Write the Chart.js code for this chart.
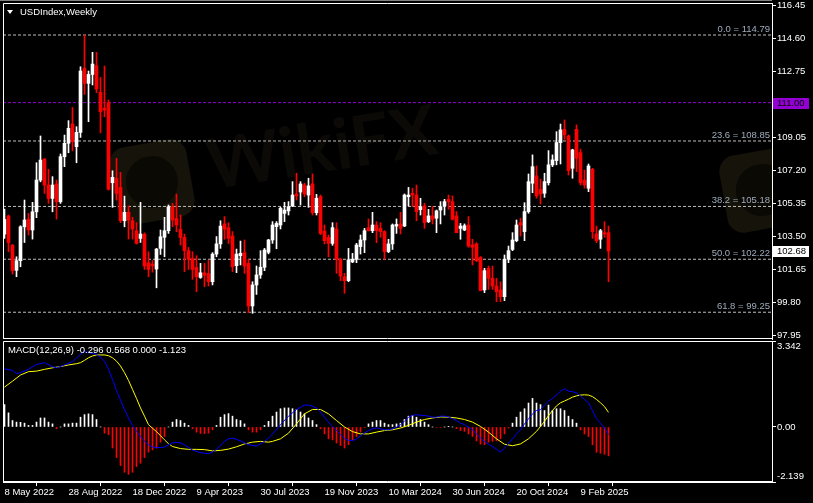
<!DOCTYPE html>
<html>
<head>
<meta charset="utf-8">
<title>USDIndex,Weekly</title>
<script src="https://cdn.jsdelivr.net/npm/chart.js@4.4.1/dist/chart.umd.min.js"></script>
<style>
  html, body { margin: 0; padding: 0; background: #000; }
  #wrap { position: relative; width: 813px; height: 503px; overflow: hidden; background: #000; }
  canvas { position: absolute; left: 0; z-index: 1; }
  #price { top: 0; }
  #macd { top: 339px; }
  .txt { position: absolute; z-index: 2; color: #fff; font: 9.5px 'Liberation Sans', Arial, sans-serif; line-height: 11px; white-space: nowrap; }
  #tri { position: absolute; z-index: 2; left: 7px; top: 10px; width: 0; height: 0;
         border-left: 3px solid transparent; border-right: 3px solid transparent; border-top: 4px solid #fff; }
  #wm { position: absolute; left: 3px; top: 3px; width: 769px; height: 335px; overflow: hidden; z-index: 0; }
  .logo { position: absolute; width: 78px; height: 78px; border-radius: 16px; background: #16130a; transform: rotate(-10deg); }
  .logo::after { content: ''; position: absolute; left: 13px; top: 13px; width: 52px; height: 52px; border-radius: 50%; background: #0b0904; }
  #wmtext { position: absolute; left: 202px; top: 100px; font: bold 70px 'Lato', 'DejaVu Sans', sans-serif; color: #0c0a06; transform: rotate(-9deg); }
</style>
</head>
<body>
<div id="wrap">
  <div id="wm">
    <div class="logo" style="left:110px; top:140px;"></div>
    <div id="wmtext">WikiFX</div>
    <div class="logo" style="left:720px; top:148px;"></div>
  </div>
  <canvas id="price" width="813" height="342"></canvas>
  <canvas id="macd" width="813" height="164"></canvas>
  <div id="tri"></div>
  <div class="txt" style="left:20px; top:6px;">USDIndex,Weekly</div>
  <div class="txt" style="left:8px; top:344px;">MACD(12,26,9) -0.296 0.568 0.000 -1.123</div>
</div>
<script>
// weekly bars from 8 May 2022
const opens = [
  103.63,104.64,103.01,101.60,102.14,104.04,104.47,103.86,104.88,106.66,
  107.84,106.38,105.63,106.44,105.44,107.97,108.72,109.80,108.53,109.33,
  112.92,112.08,112.58,113.07,111.58,110.68,111.00,106.51,106.75,106.25,
  104.38,104.85,104.38,103.82,103.39,103.63,102.02,101.95,101.67,102.83,
  103.45,103.82,105.16,104.51,103.89,103.44,102.70,102.27,101.76,101.20,
  101.46,101.42,100.96,102.51,103.08,104.20,103.99,103.52,101.86,102.42,
  102.59,101.99,99.60,100.78,101.34,101.77,102.61,103.30,104.05,104.14,
  104.79,104.93,105.21,105.88,105.99,106.38,105.82,106.44,104.83,105.73,
  103.80,103.45,103.11,103.92,102.22,101.24,101.02,102.07,102.22,102.93,
  103.30,103.99,103.82,104.14,103.95,103.77,102.65,103.08,104.08,104.20,
  104.08,105.73,105.92,105.82,105.00,105.21,104.33,104.65,104.52,104.98,
  105.21,105.58,105.45,104.65,103.95,103.86,104.14,103.02,103.08,102.33,
  100.50,101.71,101.15,100.72,100.50,100.12,102.22,102.77,103.26,104.27,
  103.77,104.89,106.48,106.89,106.14,105.92,106.51,107.51,107.75,108.76,
  109.50,109.13,107.32,109.50,108.20,106.66,106.20,107.26,103.64,103.34,
  103.71,103.71
];
const highs = [
  105.03,104.70,103.05,102.36,104.10,105.54,104.79,105.41,107.63,109.13,
  107.87,107.26,106.85,106.66,108.12,109.18,109.99,110.73,109.65,113.01,
  114.79,112.77,113.82,113.82,112.42,113.05,111.15,107.18,107.87,107.09,
  105.76,105.20,104.57,104.27,105.41,103.70,102.64,102.15,102.83,103.86,
  104.57,105.26,105.35,105.87,104.70,103.63,102.88,102.64,102.42,101.99,
  101.99,102.17,102.59,103.49,104.38,104.61,104.27,103.77,102.79,103.24,
  103.30,102.22,100.96,101.84,102.70,102.83,103.34,104.33,104.33,105.13,
  105.41,105.45,106.57,107.04,106.57,106.48,106.76,107.00,105.86,105.82,
  104.14,103.58,104.27,104.27,102.27,101.43,102.83,102.55,103.11,103.58,
  103.95,104.48,104.85,104.33,104.27,103.82,103.34,104.20,104.48,104.85,
  105.88,106.25,106.20,106.38,105.64,105.36,105.02,105.17,104.98,105.45,
  105.58,105.82,105.77,104.89,104.23,104.20,104.61,103.34,103.15,102.37,
  101.71,101.84,101.84,101.15,100.96,102.46,102.96,103.71,104.42,104.52,
  105.39,107.00,108.07,107.45,106.70,107.04,108.31,108.07,109.37,109.80,
  110.03,109.19,108.39,109.75,108.39,107.22,107.56,107.32,104.08,103.90,
  104.33,104.08
];
const lows = [
  103.39,102.64,101.39,101.24,101.80,103.16,103.58,103.35,104.55,106.56,
  105.91,105.35,104.88,104.47,105.35,107.41,108.19,108.30,107.63,109.05,
  111.46,109.93,111.99,111.56,109.31,110.21,106.10,105.13,105.54,104.27,
  104.04,103.35,103.35,103.07,103.16,101.65,101.24,101.50,100.62,102.49,
  102.36,103.67,104.04,103.76,103.01,101.52,101.65,101.09,100.40,101.15,
  100.68,100.72,100.78,102.36,102.83,103.34,103.11,101.52,101.47,101.90,
  101.43,99.22,99.19,100.25,101.15,101.58,102.52,103.11,102.81,103.92,
  104.33,104.70,105.17,105.54,105.26,105.73,105.13,104.70,104.70,103.60,
  103.08,102.36,103.00,101.43,101.02,100.31,100.96,102.03,102.03,102.51,
  102.59,103.80,103.71,103.15,103.45,102.22,102.59,102.77,103.67,103.64,
  104.05,105.21,105.17,104.38,104.70,103.95,104.27,104.20,103.71,104.20,
  104.70,105.02,104.42,103.70,103.34,103.82,102.89,101.90,102.08,100.45,
  100.35,100.53,100.53,99.84,99.84,99.90,102.03,102.70,103.20,103.52,
  103.26,104.80,105.95,105.64,105.32,105.69,106.38,107.41,107.51,107.56,
  108.94,106.94,106.76,107.13,106.38,106.20,106.01,103.39,103.15,102.83,
  103.45,100.96
];
const closes = [
  104.45,103.16,101.58,102.14,104.04,104.42,103.86,104.88,106.66,107.78,
  106.38,105.63,106.38,105.44,107.97,108.72,109.56,108.81,109.33,112.77,
  112.08,112.58,113.16,111.76,110.49,110.58,106.14,106.81,105.91,104.38,
  104.85,104.42,103.91,103.11,103.63,101.84,101.65,101.85,102.79,103.48,
  103.82,105.16,104.42,104.14,103.44,102.70,102.21,101.65,101.24,101.46,
  101.33,100.96,102.51,103.08,104.08,103.90,103.39,101.80,102.51,102.55,
  101.84,99.60,100.78,101.34,101.77,102.74,103.30,104.14,104.23,105.08,
  104.98,105.17,105.82,105.77,106.44,105.88,106.33,104.83,105.64,103.67,
  103.26,103.11,103.99,102.22,101.28,101.02,102.18,102.22,103.02,103.30,
  103.82,103.82,104.14,103.82,103.77,102.65,103.08,104.14,104.17,103.95,
  105.82,105.82,105.82,104.89,105.17,104.27,104.65,104.46,104.93,105.17,
  105.45,105.45,104.46,103.71,104.08,104.10,102.96,102.89,102.14,100.46,
  101.58,101.15,100.72,100.40,100.12,102.22,102.70,103.30,104.14,104.14,
  104.89,106.57,107.41,105.77,105.88,106.57,107.51,107.79,108.76,109.47,
  109.19,107.19,108.35,107.88,106.51,106.38,107.45,103.77,103.26,103.82,
  103.64,102.68
];

const priceTicks = [97.95, 99.80, 101.65, 103.50, 105.35, 107.20, 109.05, 110.90, 112.75, 114.60, 116.45];
const fibLevels = [0.0, 23.6, 38.2, 50.0, 61.8];
const fibPrices = [114.79, 108.85, 105.18, 102.22, 99.25];
const levelLine = 111.00;
const lastPrice = 102.68;

const xTickIdx = [0, 16, 32, 48, 64, 80, 96, 112, 128, 144];
const xTickLabels = ['8 May 2022', '28 Aug 2022', '18 Dec 2022', '9 Apr 2023', '30 Jul 2023',
                     '19 Nov 2023', '10 Mar 2024', '30 Jun 2024', '20 Oct 2024', '9 Feb 2025'];

// MACD histogram, one value per bar
const macdHist = [
  0.87,0.55,0.25,0.19,0.18,0.15,0.06,0.06,0.19,0.35,
  0.35,0.19,0.12,-0.07,0.00,0.12,0.12,0.15,0.15,0.38,
  0.48,0.51,0.48,0.29,0.00,-0.24,-0.30,-0.82,-1.19,-1.50,
  -1.76,-1.84,-1.76,-1.54,-1.41,-1.19,-0.98,-0.89,-0.82,-0.59,
  -0.37,0.00,0.19,0.29,0.25,0.15,0.06,-0.07,-0.20,-0.25,
  -0.26,-0.24,-0.11,0.06,0.38,0.48,0.52,0.42,0.29,0.25,
  0.12,-0.11,-0.20,-0.20,-0.11,0.06,0.22,
  0.42,0.58,0.71,0.74,0.74,0.71,0.68,0.58,0.51,0.35,
  0.25,0.09,-0.07,-0.27,-0.46,-0.50,-0.62,-0.72,-0.82,-0.69,
  -0.50,-0.37,-0.20,-0.01,0.12,0.19,0.25,0.25,0.15,0.09,
  0.09,0.12,0.15,0.29,0.42,0.45,0.38,0.29,0.19,0.09,
  0.00,-0.02,-0.02,0.00,0.01,0.00,-0.07,-0.14,-0.17,-0.27,
  -0.37,-0.54,-0.67,-0.69,-0.59,-0.56,-0.54,-0.46,-0.27,-0.04,
  0.15,0.38,0.58,0.71,0.93,1.11,0.93,
  0.87,0.64,0.85,0.64,0.71,0.71,0.64,0.42,0.29,0.15,
  -0.11,-0.27,-0.37,-0.69,-0.98,-1.02,-1.06,-1.123
];
// [bar, value] readings of the blue MACD line
const macdLine = [
  [0,2.26],[2,2.20],[3,2.07],[4,2.11],[6,2.24],[8,2.43],[10,2.50],[12,2.34],[13,2.30],[15,2.41],
  [17,2.54],[19,2.82],[20,2.93],[21,2.89],[22,2.86],[23,2.82],[24,2.72],[25,2.55],[26,2.25],[27,1.85],
  [28,1.42],[29,1.05],[30,0.68],[31,0.35],[32,0.06],[33,-0.17],[34,-0.37],[35,-0.56],[36,-0.69],[37,-0.78],
  [38,-0.80],[39,-0.80],[40,-0.78],[41,-0.70],[42,-0.62],[43,-0.60],[44,-0.62],[45,-0.69],[47,-0.90],[49,-1.00],
  [51,-1.04],[52,-0.98],[53,-0.87],[55,-0.56],[56,-0.46],[57,-0.43],[59,-0.54],[61,-0.69],[63,-0.74],[65,-0.56],
  [66,-0.43],[67,-0.28],[69,0.09],[71,0.42],[73,0.68],[75,0.85],[76,0.85],[77,0.81],[78,0.74],[79,0.58],
  [80,0.38],[81,0.19],[82,0.02],[83,-0.13],[84,-0.30],[85,-0.45],[86,-0.52],[87,-0.53],[88,-0.46],[89,-0.35],
  [90,-0.24],[91,-0.14],[92,-0.07],[93,-0.04],[94,-0.07],[95,-0.11],[96,-0.11],[97,-0.07],[98,-0.01],[99,0.09],
  [100,0.22],[101,0.38],[102,0.45],[103,0.48],[104,0.45],[105,0.45],[106,0.42],[107,0.38],[108,0.38],[109,0.42],
  [110,0.42],[111,0.39],[112,0.32],[113,0.25],[114,0.15],[115,0.09],[116,-0.01],[117,-0.11],[118,-0.27],[119,-0.43],
  [120,-0.56],[121,-0.67],[122,-0.76],[123,-0.86],[124,-0.98],[125,-0.82],[126,-0.63],[127,-0.46],[128,-0.27],[129,-0.11],
  [130,0.12],[131,0.32],[132,0.51],[133,0.64],[134,0.67],[135,0.85],[136,1.00],[137,1.11],[138,1.24],[139,1.39],
  [140,1.49],[141,1.39],[142,1.37],[143,1.33],[144,1.20],[145,1.07],[146,0.94],[147,0.64],[148,0.32],[149,0.15],
  [150,-0.04],[151,-0.296]
];
// [bar, value] readings of the yellow signal line
const signalLine = [
  [0,1.55],[2,1.78],[4,2.02],[6,2.15],[8,2.17],[10,2.24],[12,2.30],[14,2.35],[16,2.41],[18,2.46],
  [19,2.50],[20,2.59],[21,2.69],[22,2.76],[23,2.80],[24,2.80],[25,2.80],[26,2.77],[27,2.69],[28,2.56],
  [29,2.37],[30,2.11],[31,1.81],[32,1.46],[33,1.11],[34,0.74],[35,0.42],[36,0.09],[37,-0.05],[38,-0.18],
  [39,-0.34],[40,-0.50],[41,-0.65],[42,-0.76],[44,-0.84],[46,-0.87],[48,-0.87],[50,-0.88],[52,-0.93],[54,-0.91],
  [56,-0.86],[58,-0.77],[60,-0.66],[62,-0.59],[64,-0.56],[66,-0.59],[67,-0.56],[69,-0.46],[71,-0.24],[73,0.12],
  [75,0.51],[77,0.68],[79,0.68],[81,0.51],[83,0.25],[85,0.00],[87,-0.18],[89,-0.27],[91,-0.27],[93,-0.20],
  [95,-0.14],[97,-0.11],[99,-0.04],[101,0.06],[103,0.19],[105,0.29],[107,0.35],[109,0.39],[111,0.38],[113,0.35],
  [115,0.29],[117,0.19],[119,0.02],[121,-0.20],[123,-0.46],[125,-0.67],[127,-0.73],[129,-0.66],[131,-0.46],[133,-0.17],
  [134,0.02],[135,0.22],[136,0.44],[137,0.64],[138,0.82],[139,0.94],[140,1.01],[141,1.08],[142,1.16],[143,1.21],
  [144,1.24],[145,1.25],[146,1.24],[147,1.18],[148,1.07],[149,0.94],[150,0.79],[151,0.568]
];
const macdTicks = [3.342, 0, -2.139];

// ---- chart setup ----
Chart.defaults.font.family = "'Liberation Sans', Arial, sans-serif";
Chart.defaults.font.size = 9.5;
Chart.defaults.color = '#fff';

const X_MIN = -0.375, X_MAX = 191.875;   // 4px per weekly slot, empty space on the right
const PRICE_MIN = 97.75, PRICE_MAX = 116.584;

const candleColors = closes.map((c, i) => c >= opens[i] ? '#ffffff' : '#ff0000');

// labels may hang over the panel edge, so the axes must not shrink the plot for them
const noPad = s => { s.paddingTop = 0; s.paddingBottom = 0; s.paddingLeft = 0; s.paddingRight = 0; };

function hline(v, color) {
  return { type: 'line', data: [{ x: X_MIN, y: v }, { x: X_MAX, y: v }], borderColor: color,
           borderWidth: 1, borderDash: [3, 2], pointRadius: 0, order: 2 };
}

const frame = {
  id: 'frame',
  afterDraw(chart) {
    const { ctx, chartArea: a } = chart;
    ctx.save();
    ctx.strokeStyle = '#fff';
    ctx.lineWidth = 1;
    ctx.beginPath();
    ctx.moveTo(a.left + 0.5, a.bottom - 0.5);
    ctx.lineTo(a.left + 0.5, a.top + 0.5);
    ctx.lineTo(a.right, a.top + 0.5);
    ctx.moveTo(a.left, a.bottom - 0.5);
    ctx.lineTo(a.right, a.bottom - 0.5);
    ctx.stroke();
    ctx.restore();
  }
};

const fibText = {
  id: 'fibText',
  afterDatasetsDraw(chart) {
    const { ctx, chartArea: a, scales: { y } } = chart;
    ctx.save();
    ctx.font = "9.5px 'Liberation Sans', Arial, sans-serif";
    ctx.fillStyle = '#9eacbc';
    ctx.textAlign = 'right';
    ctx.textBaseline = 'bottom';
    fibLevels.forEach((lv, k) => {
      ctx.fillText(lv.toFixed(1) + ' = ' + fibPrices[k].toFixed(2), a.right - 2, y.getPixelForValue(fibPrices[k]) - 1);
    });
    // thin grey window edge on top
    ctx.fillStyle = '#808080';
    ctx.fillRect(0, 0, a.right, 1);
    ctx.restore();
  }
};

const priceTags = {
  id: 'priceTags',
  afterDraw(chart) {
    const { ctx, chartArea: a, scales: { y } } = chart;
    const tag = (v, bg, fg) => {
      const py = Math.round(y.getPixelForValue(v));
      ctx.fillStyle = bg;
      ctx.fillRect(a.right + 1, py - 5, 36, 11);
      ctx.fillStyle = fg;
      ctx.textAlign = 'left';
      ctx.textBaseline = 'middle';
      ctx.fillText(v.toFixed(2), a.right + 5, py + 0.5);
    };
    ctx.save();
    ctx.font = "9.5px 'Liberation Sans', Arial, sans-serif";
    tag(levelLine, '#9400d3', '#000');
    tag(lastPrice, '#ffffff', '#000');
    ctx.restore();
  }
};

// price panel
new Chart(document.getElementById('price'), {
  type: 'bar',
  data: {
    datasets: [
      ...fibPrices.map(p => hline(p, '#bdbdbd')),
      hline(levelLine, '#9400d3'),
      { type: 'bar', data: lows.map((l, i) => ({ x: i, y: [l, highs[i]] })), backgroundColor: candleColors,
        barThickness: 1, grouped: false, order: 1 },
      { type: 'bar', data: opens.map((o, i) => ({ x: i, y: [o, closes[i]] })), backgroundColor: candleColors,
        barThickness: 3, minBarLength: 1, grouped: false, order: 0 }
    ]
  },
  options: {
    responsive: false, devicePixelRatio: 1, animation: false,
    layout: { padding: { left: 3, top: 3, right: 0, bottom: 3 } },
    plugins: { legend: { display: false }, tooltip: { enabled: false } },
    scales: {
      x: { type: 'linear', offset: false, min: X_MIN, max: X_MAX, display: false },
      y: {
        position: 'right', min: PRICE_MIN, max: PRICE_MAX,
        afterFit: s => { s.width = 41; noPad(s); },
        afterBuildTicks: s => { s.ticks = priceTicks.map(v => ({ value: v })); },
        grid: { drawOnChartArea: false, color: '#fff', tickLength: 4 },
        border: { color: '#fff' },
        ticks: { color: '#fff', padding: 1, autoSkip: false, callback: v => v.toFixed(2) }
      }
    }
  },
  plugins: [frame, fibText, priceTags]
});

// MACD panel
new Chart(document.getElementById('macd'), {
  type: 'bar',
  data: {
    datasets: [
      { type: 'line', data: macdLine.map(p => ({ x: p[0], y: p[1] })), borderColor: '#0000ff',
        borderWidth: 1, pointRadius: 0, tension: 0, order: 0 },
      { type: 'line', data: signalLine.map(p => ({ x: p[0], y: p[1] })), borderColor: '#ffff00',
        borderWidth: 1, pointRadius: 0, tension: 0, order: 0 },
      { type: 'bar', data: macdHist.map((v, i) => ({ x: i, y: v })),
        backgroundColor: macdHist.map(v => v >= 0 ? '#ffffff' : '#ff0000'), barThickness: 1, order: 1 }
    ]
  },
  options: {
    responsive: false, devicePixelRatio: 1, animation: false,
    layout: { padding: { left: 3, top: 2, right: 0, bottom: 0 } },
    plugins: { legend: { display: false }, tooltip: { enabled: false } },
    scales: {
      x: {
        type: 'linear', offset: false, min: X_MIN, max: X_MAX,
        afterFit: s => { s.height = 21; noPad(s); },
        afterBuildTicks: s => { s.ticks = xTickIdx.map(v => ({ value: v })); },
        grid: { drawOnChartArea: false, color: '#fff', tickLength: 4 },
        border: { color: '#fff' },
        ticks: { color: '#fff', align: 'start', padding: 1, autoSkip: false, maxRotation: 0,
                 callback: v => xTickLabels[xTickIdx.indexOf(v)] }
      },
      y: {
        position: 'right', min: macdTicks[2], max: macdTicks[0],
        afterFit: s => { s.width = 41; noPad(s); },
        afterBuildTicks: s => { s.ticks = macdTicks.map(v => ({ value: v })); },
        grid: { drawOnChartArea: false, color: '#fff', tickLength: 4 },
        border: { color: '#fff' },
        // top / bottom labels sit inside the panel, as in the terminal
        ticks: { color: '#fff', padding: 1, autoSkip: false,
                 callback: v => v === macdTicks[0] ? ['', v.toFixed(3)]
                              : v === macdTicks[2] ? [v.toFixed(3), ''] : v.toFixed(2) }
      }
    }
  },
  plugins: [frame]
});
</script>
</body>
</html>
